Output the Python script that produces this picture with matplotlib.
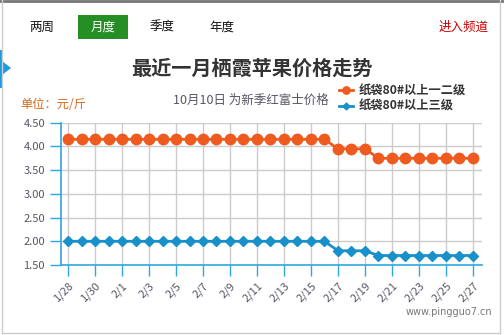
import matplotlib
matplotlib.use('Agg')
import matplotlib.pyplot as plt
from matplotlib.patches import Rectangle, Polygon
from matplotlib.lines import Line2D

plt.rcParams['font.family'] = ['Noto Sans CJK SC', 'DejaVu Sans']

dates = ['1/28', '1/29', '1/30', '1/31', '2/1', '2/2', '2/3', '2/4', '2/5', '2/6',
         '2/7', '2/8', '2/9', '2/10', '2/11', '2/12', '2/13', '2/14', '2/15', '2/16',
         '2/17', '2/18', '2/19', '2/20', '2/21', '2/22', '2/23', '2/24', '2/25', '2/26',
         '2/27']
grade12 = [4.15] * 20 + [3.95] * 3 + [3.75] * 8
grade3 = [2.00] * 20 + [1.80] * 3 + [1.70] * 8
yticks = [1.5, 2.0, 2.5, 3.0, 3.5, 4.0, 4.5]
tabs = ['两周', '月度', '季度', '年度']

W, H = 504, 335
orange = '#ef5a1f'
blue = '#1891cb'
axis_blue = '#2ea7e0'


def fx(x):
    return x / W


def fy(y):
    return 1 - y / H


fig = plt.figure(figsize=(5.04, 3.35), dpi=100)

# frame of the widget
fig.add_artist(Line2D([0, 1], [fy(0.8), fy(0.8)], color='#777777', lw=2))
fig.add_artist(Line2D([fx(1.5), fx(1.5)], [fy(0), fy(333)], color='#cccccc', lw=1))
fig.add_artist(Line2D([fx(499.5), fx(499.5)], [fy(0), fy(333)], color='#cccccc', lw=1))
fig.add_artist(Line2D([fx(1.5), fx(499.5)], [fy(333), fy(333)], color='#cccccc', lw=1))
fig.add_artist(Rectangle((0, fy(88)), fx(3), (88 - 50) / H, color='#1b9be0', lw=0))
fig.add_artist(Polygon([[fx(2), fy(61)], [fx(11), fy(68)], [fx(2), fy(75)]],
                       closed=True, color='#1b9be0', lw=0))

# tabs
fig.add_artist(Rectangle((fx(78), fy(39)), 50 / W, 24 / H, color='#258f25', lw=0))
for name, cx in zip(tabs, [42, 103, 162, 222]):
    fig.text(fx(cx), fy(27), name, ha='center', va='center', fontsize=9,
             color='white' if name == '月度' else '#111111')
fig.text(fx(489), fy(27), '进入频道', ha='right', va='center', fontsize=9, color='#cc0000')

fig.text(fx(252), fy(68), '最近一月栖霞苹果价格走势', ha='center', va='center',
         fontsize=14.5, fontweight='bold', color='#333333')
fig.text(fx(329), fy(100), '10月10日 为新季红富士价格', ha='right', va='center',
         fontsize=9, color='#555566')
fig.text(fx(20), fy(104), '单位：元/斤', ha='left', va='center', fontsize=8.8, color='#d2691e')
fig.text(fx(492), fy(312), 'www.pingguo7.cn', ha='right', va='center', fontsize=7,
         color='#777777', family='DejaVu Sans')

ax = fig.add_axes([fx(61), fy(265), (482 - 61) / W, (265 - 122.7) / H])
x = list(range(len(dates)))
l1, = ax.plot(x, grade12, color=orange, lw=2, marker='o', ms=7.5, mec=orange, zorder=3)
l2, = ax.plot(x, grade3, color=blue, lw=2, marker='D', ms=5, mec=blue, zorder=3)

ax.set_xlim(-0.52, 30.67)
ax.set_ylim(1.5, 4.5)
ax.set_yticks(yticks)
ax.set_yticklabels(['%.2f' % v for v in yticks])
ax.set_xticks(x[::2])
ax.set_xticklabels(dates[::2], rotation=45, ha='right', rotation_mode='anchor')
ax.tick_params(axis='both', colors=axis_blue, length=8, width=1, labelsize=8,
               labelcolor='#555566')
ax.tick_params(axis='x', pad=3)
ax.grid(True, color='#cccccc', lw=1)
ax.set_axisbelow(True)
for s in ['top', 'right']:
    ax.spines[s].set_visible(False)
for s in ['left', 'bottom']:
    ax.spines[s].set_color(axis_blue)
    ax.spines[s].set_linewidth(1.2)

leg = fig.legend([l1, l2], ['纸袋80#以上一二级', '纸袋80#以上三级'],
                 loc='upper left', bbox_to_anchor=(fx(330), fy(76)),
                 frameon=False, fontsize=8.8, handlelength=1.2, handletextpad=0.45,
                 labelspacing=0.2, borderpad=0.2, markerscale=0.7)
for t in leg.get_texts():
    t.set_fontweight('bold')
    t.set_color('#333333')

fig.savefig('out.png', dpi=100)
